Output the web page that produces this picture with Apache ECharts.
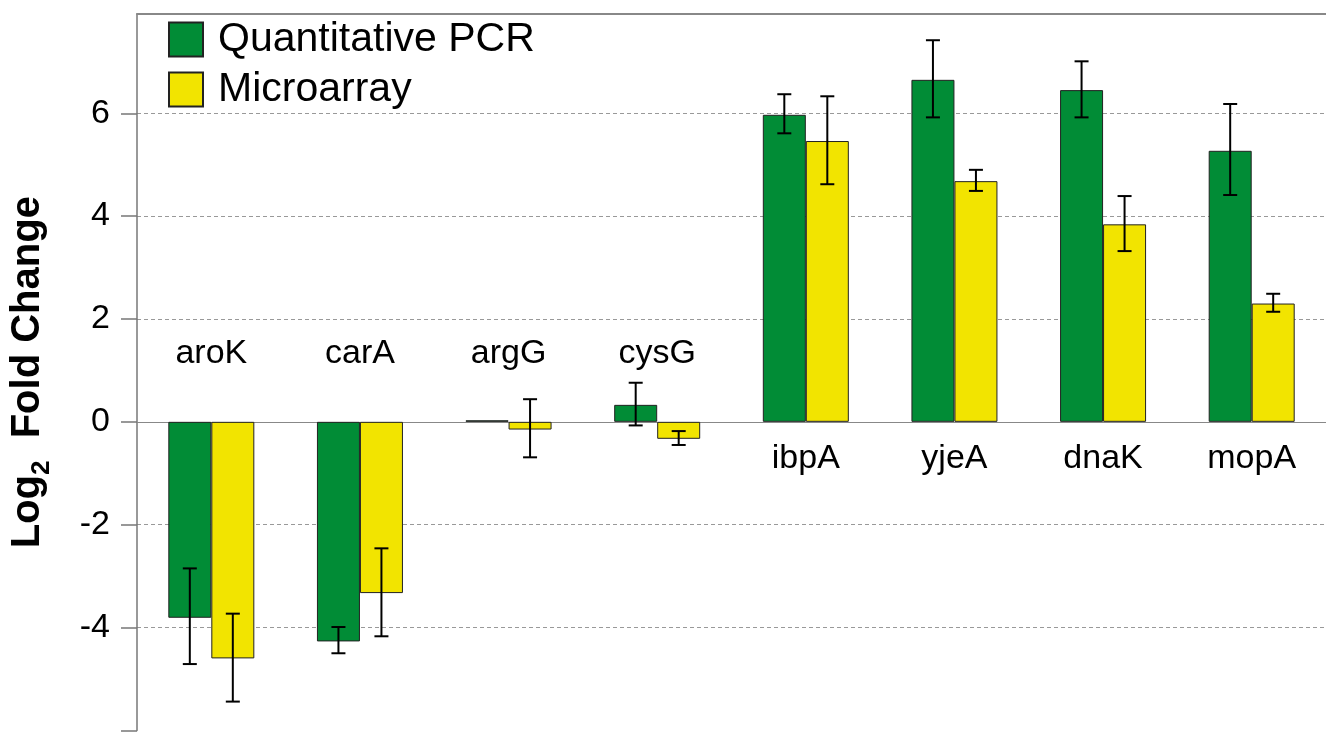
<!DOCTYPE html>
<html>
<head>
<meta charset="utf-8">
<script src="https://cdn.jsdelivr.net/npm/echarts@6/dist/echarts.min.js"></script>
<style>
html, body { margin: 0; padding: 0; background: #fff; }
#chart { width: 1326px; height: 732px; }
</style>
</head>
<body>
<div id="chart"></div>
<script>
const genes = ['aroK', 'carA', 'argG', 'cysG', 'ibpA', 'yjeA', 'dnaK', 'mopA'];
const pcrValues = [-3.81, -4.27, 0.03, 0.33, 5.97, 6.65, 6.45, 5.27];
const pcrHigh = [-2.85, -3.99, null, 0.76, 6.37, 7.42, 7.01, 6.18];
const pcrLow = [-4.71, -4.50, null, -0.07, 5.61, 5.92, 5.92, 4.41];
const arrayValues = [-4.60, -3.33, -0.15, -0.33, 5.46, 4.68, 3.84, 2.30];
const arrayHigh = [-3.73, -2.46, 0.44, -0.18, 6.33, 4.90, 4.39, 2.49];
const arrayLow = [-5.44, -4.17, -0.69, -0.45, 4.62, 4.49, 3.32, 2.14];
const yMin = -6;
const yMax = 7.93;

const green = '#018c36';
const yellow = '#f2e400';
const font = 'Liberation Sans, Arial, sans-serif';
const barWidth = 43;

// gene names sit above the zero line for down-regulated genes, below it otherwise
const labelData = genes.map((g, i) => {
  const up = Math.max(pcrValues[i], arrayValues[i]) > 1;
  return [i, up ? -0.72 : 1.33];
});

function errorItem(offset) {
  return function (params, api) {
    const i = api.value(0);
    const top = api.coord([i, api.value(1)]);
    const bottom = api.coord([i, api.value(2)]);
    const x = top[0] + offset;
    const cap = 7;
    const style = { stroke: '#000', lineWidth: 2 };
    return {
      type: 'group',
      children: [
        { type: 'line', shape: { x1: x, y1: top[1], x2: x, y2: bottom[1] }, style },
        { type: 'line', shape: { x1: x - cap, y1: top[1], x2: x + cap, y2: top[1] }, style },
        { type: 'line', shape: { x1: x - cap, y1: bottom[1], x2: x + cap, y2: bottom[1] }, style }
      ]
    };
  };
}

function errorData(highs, lows) {
  return genes.map((g, i) => highs[i] == null ? null : [i, highs[i], lows[i]]).filter(d => d);
}

const chart = echarts.init(document.getElementById('chart'));
chart.setOption({
  animation: false,
  textStyle: { fontFamily: font },
  grid: { left: 134.5, right: -11, top: 14, bottom: 1.6 },
  legend: {
    orient: 'vertical',
    left: 163,
    top: 14,
    itemWidth: 34,
    itemHeight: 34,
    itemGap: 9,
    icon: 'rect',
    selectedMode: false,
    textStyle: { fontSize: 41, color: '#000', fontFamily: font, lineHeight: 34, padding: [0, 0, 0, 10] },
    data: ['Quantitative PCR', 'Microarray']
  },
  xAxis: [{
    type: 'category',
    data: genes,
    axisLine: { onZero: true, lineStyle: { color: '#888', width: 1.2 } },
    axisTick: { show: false },
    axisLabel: { show: false }
  }, {
    type: 'category',
    data: genes,
    position: 'top',
    axisLine: { onZero: false, lineStyle: { color: '#888', width: 2 } },
    axisTick: { show: false },
    axisLabel: { show: false }
  }],
  yAxis: {
    type: 'value',
    min: yMin,
    max: yMax,
    interval: 2,
    name: '{main|Log}{sub|2}{main|  Fold Change}',
    nameLocation: 'middle',
    nameRotate: 90,
    nameGap: 82,
    nameTextStyle: {
      rich: {
        main: { fontSize: 40, fontWeight: 'bold', color: '#000', fontFamily: font, padding: [0, 0, 7, 0], verticalAlign: 'bottom' },
        sub: { fontSize: 26, fontWeight: 'bold', color: '#000', fontFamily: font, verticalAlign: 'bottom' }
      }
    },
    axisLine: { show: true, lineStyle: { color: '#777', width: 1.5 } },
    axisTick: { show: true, length: 16, lineStyle: { color: '#777', width: 1.5 } },
    axisLabel: {
      fontSize: 34,
      color: '#000',
      margin: 27,
      showMaxLabel: false,
      formatter: v => (v > yMin && v < yMax - 1 ? String(v) : '')
    },
    splitLine: {
      show: true,
      showMinLine: false,
      showMaxLine: false,
      lineStyle: { color: '#999', type: [4, 3], width: 1 }
    }
  },
  series: [{
    name: 'Quantitative PCR',
    type: 'bar',
    data: pcrValues,
    barWidth: barWidth,
    barGap: '0%',
    itemStyle: { color: green, borderColor: '#222', borderWidth: 1 }
  }, {
    name: 'Microarray',
    type: 'bar',
    data: arrayValues,
    barWidth: barWidth,
    barGap: '0%',
    itemStyle: { color: yellow, borderColor: '#222', borderWidth: 1 }
  }, {
    type: 'custom',
    renderItem: errorItem(-barWidth / 2),
    data: errorData(pcrHigh, pcrLow),
    z: 5
  }, {
    type: 'custom',
    renderItem: errorItem(barWidth / 2),
    data: errorData(arrayHigh, arrayLow),
    z: 5
  }, {
    type: 'scatter',
    data: labelData,
    symbolSize: 0,
    silent: true,
    itemStyle: { opacity: 1 },
    label: {
      show: true,
      position: 'inside',
      formatter: p => genes[p.value[0]],
      fontSize: 34,
      color: '#000',
      fontFamily: font
    }
  }]
});
</script>
</body>
</html>
